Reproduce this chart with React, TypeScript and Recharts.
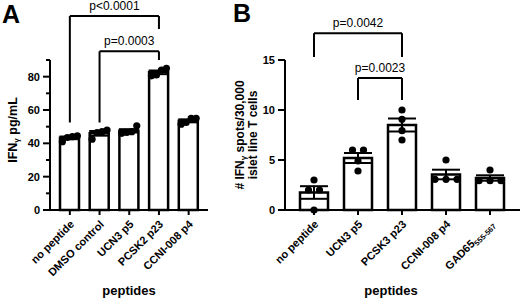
import React from "react";
import { Bar, ComposedChart, ErrorBar, ReferenceLine, Scatter, XAxis, YAxis } from "recharts";

const FONT = '"Liberation Sans", Arial, Helvetica, sans-serif';

// Panel A - IFNγ ELISA (pg/mL)
const aCategories = ["no peptide", "DMSO control", "UCN3 p5", "PCSK2 p23", "CCNI-008 p4"];
const aMeans = [43.3, 46, 47.5, 82.6, 53.5];
const aSems = [0.8, 1.4, 1.0, 1.1, 0.9];
const aReplicates = [
  [44.5, 44, 43.5, 41],
  [48, 47, 46.5, 42.5],
  [50.5, 46.5, 47, 46],
  [85, 84, 81, 80.5],
  [55, 55, 52.5, 51.5],
];
const aTicks = [0, 10, 20, 30, 40, 50, 60, 70, 80, 90];
const aLabeled = [0, 20, 40, 60, 80];
// significance brackets: [from, to, bracket level, from leg end, to leg end, text]
const aBrackets: [string, string, number, number, number, string][] = [
  ["no peptide", "PCSK2 p23", 116.4, 52.5, 108.6, "p<0.0001"],
  ["DMSO control", "PCSK2 p23", 95.2, 52.5, 90, "p=0.0003"],
];

// Panel B - IFNγ ELISpot
const bCategories = ["no peptide", "UCN3 p5", "PCSK3 p23", "CCNI-008 p4", "GAD65_555-567"];
const bMeans = [1.75, 5.2, 8.5, 3.55, 3.2];
const bSems = [0.63, 0.5, 0.65, 0.48, 0.27];
const bReplicates = [
  [3, 2, 2, 0],
  [6, 6, 3.9, 4.9],
  [10, 9.07, 7.93, 7.0],
  [5, 3.07, 3.07, 3.07],
  [4, 2.93, 2.93, 2.93],
];
const bTicks = [0, 5, 10, 15];
const bBrackets: [string, string, number, number, number, string][] = [
  ["no peptide", "PCSK3 p23", 17.67, 15.3, 15.3, "p=0.0042"],
  ["UCN3 p5", "PCSK3 p23", 13.2, 11.0, 11.0, "p=0.0023"],
];

const TICK_SIZE = 7;
const TICK_MARGIN = 3;

// spread replicates with similar values sideways, like a small beeswarm
function swarmOffset(values: number[], i: number, tol: number, gap: number) {
  const order = values.map((_, k) => k).sort((p, q) => values[p] - values[q] || p - q);
  const groups: number[][] = [];
  order.forEach((k) => {
    const g = groups[groups.length - 1];
    if (g && values[k] - values[g[g.length - 1]] < tol) g.push(k);
    else groups.push([k]);
  });
  const g = groups.find((gr) => gr.includes(i))!;
  return (g.indexOf(i) - (g.length - 1) / 2) * gap;
}

const YTick = (props: any) => {
  const { x, y, payload, labeled } = props;
  const ax = x + TICK_SIZE + TICK_MARGIN;
  const major = labeled.includes(payload.value);
  return (
    <g>
      <line x1={ax - (major ? TICK_SIZE : 4)} x2={ax} y1={y} y2={y} stroke="#000" strokeWidth={2} />
      {major && (
        <text x={x} y={y} dy="0.36em" textAnchor="end" fontFamily={FONT} fontWeight="bold" fontSize={11} fill="#000">
          {payload.value}
        </text>
      )}
    </g>
  );
};

const XTick = (props: any) => {
  const { x, y, payload } = props;
  const [main, sub] = String(payload.value).split("_");
  return (
    <g transform={`translate(${x + 5},${y + 8}) rotate(-45)`}>
      <text x={0} y={0} textAnchor="end" fontFamily={FONT} fontWeight="bold" fontSize={11} fill="#000">
        {main}
        {sub && (
          <tspan fontSize={7.5} dy={2.5}>
            {sub}
          </tspan>
        )}
      </text>
    </g>
  );
};

interface PanelProps {
  categories: string[];
  means: number[];
  sems: number[];
  reps: number[][];
  ticks: number[];
  labeled: number[];
  brackets: [string, string, number, number, number, string][];
  width: number;
  axisWidth: number;
  marginRight: number;
  padding: { left: number; right: number };
  barSize: number;
  capWidth: number;
  tol: number;
  gap: number;
}

function Panel(p: PanelProps) {
  const rows = p.categories.map((name, i) => ({
    name,
    mean: p.means[i],
    sem: p.sems[i],
    reps: p.reps[i],
    r0: p.reps[i][0],
    r1: p.reps[i][1],
    r2: p.reps[i][2],
    r3: p.reps[i][3],
  }));
  const axisStyle = { stroke: "#000", strokeWidth: 2 };
  return (
    <ComposedChart
      width={p.width}
      height={300}
      data={rows}
      margin={{ top: 60, right: p.marginRight, bottom: 0, left: 0 }}
    >
      <XAxis
        dataKey="name"
        height={90}
        padding={p.padding}
        axisLine={axisStyle}
        tickLine={axisStyle}
        tickSize={5}
        tickMargin={2}
        interval={0}
        tick={<XTick />}
      />
      <YAxis
        width={p.axisWidth}
        domain={[p.ticks[0], p.ticks[p.ticks.length - 1]]}
        ticks={p.ticks}
        interval={0}
        axisLine={axisStyle}
        tickLine={false}
        tickSize={TICK_SIZE}
        tickMargin={TICK_MARGIN}
        tick={<YTick labeled={p.labeled} />}
      />
      <Bar dataKey="mean" fill="#fff" stroke="#000" strokeWidth={2.5} barSize={p.barSize} isAnimationActive={false}>
        <ErrorBar dataKey="sem" width={p.capWidth} stroke="#000" strokeWidth={2} direction="y" />
      </Bar>
      {[0, 1, 2, 3].map((k) => (
        <Scatter
          key={k}
          dataKey={`r${k}`}
          fill="#000"
          isAnimationActive={false}
          shape={(s: any) => (
            <circle
              cx={s.cx + swarmOffset(s.payload.reps, k, p.tol, p.gap)}
              cy={s.cy}
              r={3.6}
              fill="#000"
            />
          )}
        />
      ))}
      {p.brackets.map(([from, to, level, fromEnd, toEnd, text], i) => (
        <React.Fragment key={i}>
          <ReferenceLine
            segment={[{ x: from, y: level }, { x: to, y: level }]}
            stroke="#000"
            strokeWidth={2}
            ifOverflow="visible"
            label={{ value: text, position: "top", offset: 6, fill: "#000", fontSize: 12, fontFamily: FONT }}
          />
          <ReferenceLine
            segment={[{ x: from, y: level }, { x: from, y: fromEnd }]}
            stroke="#000"
            strokeWidth={2}
            ifOverflow="visible"
          />
          <ReferenceLine
            segment={[{ x: to, y: level }, { x: to, y: toEnd }]}
            stroke="#000"
            strokeWidth={2}
            ifOverflow="visible"
          />
        </React.Fragment>
      ))}
    </ComposedChart>
  );
}

export default function App() {
  const bold = { fontFamily: FONT, fontWeight: "bold" as const, fill: "#000" };
  return (
    <div style={{ position: "absolute", left: 0, top: 0, width: 520, height: 300, background: "#fff", overflow: "hidden" }}>
      <div style={{ position: "absolute", left: 0, top: 0 }}>
        <Panel
          categories={aCategories}
          means={aMeans}
          sems={aSems}
          reps={aReplicates}
          ticks={aTicks}
          labeled={aLabeled}
          brackets={aBrackets}
          width={228}
          axisWidth={50}
          marginRight={20}
          padding={{ left: 5, right: 4.5 }}
          barSize={19}
          capWidth={10}
          tol={4.2}
          gap={5}
        />
      </div>
      <div style={{ position: "absolute", left: 228, top: 0 }}>
        <Panel
          categories={bCategories}
          means={bMeans}
          sems={bSems}
          reps={bReplicates}
          ticks={bTicks}
          labeled={bTicks}
          brackets={bBrackets}
          width={292}
          axisWidth={57}
          marginRight={0}
          padding={{ left: 7, right: 8 }}
          barSize={28}
          capWidth={14}
          tol={0.7}
          gap={11}
        />
      </div>
      <svg width={520} height={300} style={{ position: "absolute", left: 0, top: 0, pointerEvents: "none" }}>
        <text x={2} y={23} fontSize={25} {...bold}>A</text>
        <text x={233} y={22} fontSize={25} {...bold}>B</text>
        <text transform="translate(17,130) rotate(-90)" textAnchor="middle" fontSize={12.5} {...bold}>
          IFN<tspan fontSize={8} dy={2}>γ</tspan>
          <tspan dy={-2}> pg/mL</tspan>
        </text>
        <text transform="translate(244,135) rotate(-90)" textAnchor="middle" fontSize={12} {...bold}>
          # IFN<tspan fontSize={8} dy={2}>γ</tspan>
          <tspan dy={-2}> spots/30,000</tspan>
        </text>
        <text transform="translate(257,135) rotate(-90)" textAnchor="middle" fontSize={12} {...bold}>
          islet line T cells
        </text>
        <text x={129} y={295} textAnchor="middle" fontSize={13} {...bold}>peptides</text>
        <text x={391} y={295} textAnchor="middle" fontSize={13} {...bold}>peptides</text>
      </svg>
    </div>
  );
}
